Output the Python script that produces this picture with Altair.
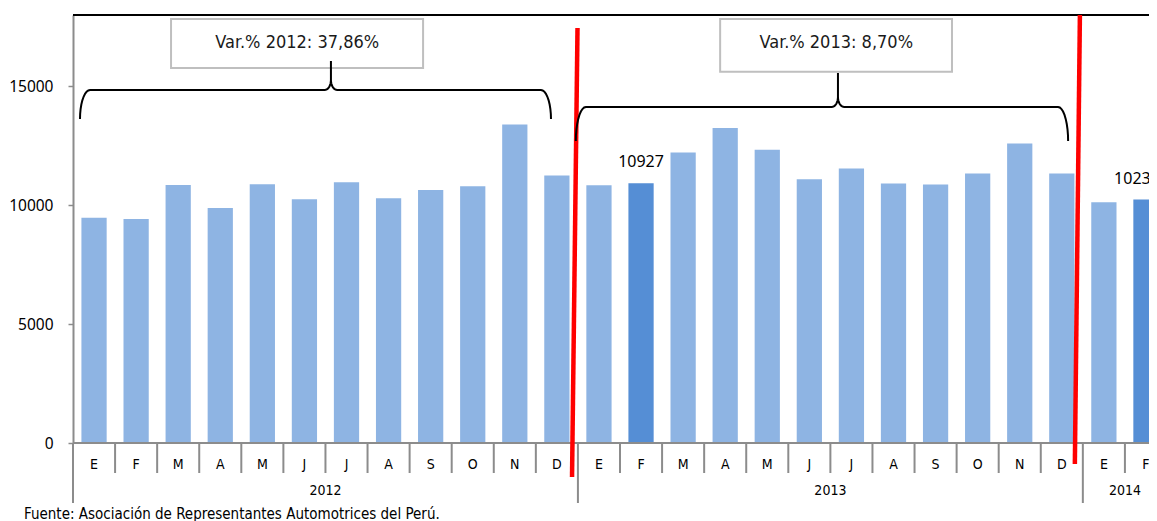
import altair as alt
import pandas as pd
import numpy as np

# ---------------- data ----------------
months_full = ["E", "F", "M", "A", "M", "J", "J", "A", "S", "O", "N", "D"]
months_2014 = ["E", "F"]
values_2012 = [9470, 9420, 10850, 9880, 10880, 10250, 10970, 10290, 10640, 10800, 13390, 11250]
values_2013 = [10840, 10927, 12220, 13250, 12330, 11090, 11540, 10910, 10870, 11330, 12600, 11330]
values_2014 = [10130, 10236]
highlight = ["2013|02", "2014|02"]
year_names = ["2012", "2013", "2014"]
var_texts = ["Var.% 2012: 37,86%", "Var.% 2013: 8,70%"]
source_text = "Fuente: Asociación de Representantes Automotrices del Perú."

NARROW = "Liberation Sans Narrow, Arial Narrow, DejaVu Sans Condensed, sans-serif"
LIGHT = "#8EB4E3"
DARK = "#558ED5"
GRAY = "#8C8C8C"

rows = []
for year, mlist, vals in [(2012, months_full, values_2012),
                          (2013, months_full, values_2013),
                          (2014, months_2014, values_2014)]:
    for i, (m, v) in enumerate(zip(mlist, vals)):
        k = f"{year}|{i + 1:02d}"
        rows.append(dict(key=f"{k}|{m}", value=v,
                         kind="hl" if k in highlight else "normal"))
df = pd.DataFrame(rows)
order = list(df["key"])
N = len(order)

YMAX = 18000
PLOT_W = 1076      # visible plot width inside the page
FULL_W = 1094      # full width of the 26 categories (the last one is cut by the page edge)
PLOT_H = 428

YAXIS = alt.Axis(title=None, values=[0, 5000, 10000, 15000], grid=False, format="d",
                 tickColor=GRAY, tickSize=5, tickWidth=1.5,
                 domainColor=GRAY, domainWidth=2,
                 labelFont="Noto Sans", labelFontSize=15.5,
                 labelColor="#000", labelPadding=15)


def ysc():
    return alt.Scale(domain=[0, YMAX], nice=False, zero=False)


def xq():
    return alt.Scale(domain=[0, N], nice=False, zero=False, range=[0, FULL_W])


def bandsc():
    return alt.Scale(domain=order, paddingInner=0.4, paddingOuter=0.2, range=[0, FULL_W])


def qx(field):
    return alt.X(field, scale=xq(), axis=None)


def qy(field):
    return alt.Y(field, scale=ysc(), axis=YAXIS)


# ---------------- bars ----------------
xband = alt.X("key:N", sort=order, scale=bandsc(),
              axis=alt.Axis(title=None, labelExpr="split(datum.value,'|')[2]",
                            ticks=False, domain=False, labelAngle=0,
                            labelFont=NARROW, labelFontSize=14, labelColor="#000",
                            labelBaseline="middle", labelPadding=21))

bars = alt.Chart(df).mark_bar().encode(
    x=xband,
    y=qy("value:Q"),
    color=alt.Color("kind:N", scale=alt.Scale(domain=["normal", "hl"], range=[LIGHT, DARK]),
                    legend=None),
)

df_a = df[df["key"] == "2013|02|F"]
df_b = df[df["key"] == "2014|02|F"]
lab_a = alt.Chart(df_a).mark_text(
    font="Noto Sans", fontSize=16, color="#000", baseline="alphabetic", dy=-16
).encode(x=alt.X("key:N", scale=bandsc(), axis=None), y=qy("value:Q"), text="value:Q")
lab_b = alt.Chart(df_b).mark_text(
    font="Noto Sans", fontSize=16, color="#000", baseline="alphabetic", dy=-16, dx=-9
).encode(x=alt.X("key:N", scale=bandsc(), axis=None), y=qy("value:Q"), text="value:Q")

# ---------------- annotation layers (continuous x) ----------------
frame = pd.DataFrame(dict(x=[0], x2=[N], y0=[0], ytop=[YMAX], t=[source_text]))
base_rule = alt.Chart(frame).mark_rule(color=GRAY, strokeWidth=2).encode(
    x=qx("x:Q"), x2="x2:Q", y=qy("y0:Q"))
top_rule = alt.Chart(frame).mark_rule(color="#000", strokeWidth=2).encode(
    x=qx("x:Q"), x2="x2:Q", y=qy("ytop:Q"))

year_starts = [0, 12, 24]
month_pos = [p for p in range(N + 1) if p not in year_starts]
month_div = pd.DataFrame(dict(p=month_pos, y0=[0] * len(month_pos)))
year_div = pd.DataFrame(dict(p=year_starts, y0=[0] * 3))
mdiv = alt.Chart(month_div).mark_rule(color=GRAY, strokeWidth=2).encode(
    x=qx("p:Q"), y=qy("y0:Q"), y2=alt.value(458))
ydiv = alt.Chart(year_div).mark_rule(color=GRAY, strokeWidth=2).encode(
    x=qx("p:Q"), y=qy("y0:Q"), y2=alt.value(488))

ylab_df = pd.DataFrame(dict(c=[6, 18, 25], t=year_names))
ylab = alt.Chart(ylab_df).mark_text(font=NARROW, fontSize=14, color="#000",
                                    baseline="middle").encode(
    x=qx("c:Q"), y=alt.value(476), text="t:N")

red_df = pd.DataFrame(dict(x=[11.99, 23.93], x2=[11.86, 23.81],
                           y=[17453, 18000], y2=[-1430, -883]))
red = alt.Chart(red_df).mark_rule(color="#FF0000", strokeWidth=4.5).encode(
    x=qx("x:Q"), x2="x2:Q", y=qy("y:Q"), y2="y2:Q")

box_df = pd.DataFrame(dict(x=[2.33, 15.38], x2=[8.32, 20.89],
                           y=[17832, 17832], y2=[15771, 15615],
                           xc=[5.33, 18.14], yc=[16823, 16823], t=var_texts))
boxes = alt.Chart(box_df).mark_rect(fill="white", stroke="#BFBFBF", strokeWidth=2).encode(
    x=qx("x:Q"), x2="x2:Q", y=qy("y:Q"), y2="y2:Q")
box_txt = alt.Chart(box_df).mark_text(font=NARROW, fontSize=18, color="#1A1A1A",
                                      baseline="middle").encode(
    x=qx("xc:Q"), y=qy("yc:Q"), text="t:N")


def brace(bid, x0, x1, xm, yl, ye, yt, rx=0.24, tx=0.15, ty=420):
    phi = np.linspace(0, np.pi / 2, 10)
    pts = []
    pts += [(x0 + rx * (1 - np.cos(a)), ye + (yl - ye) * np.sin(a)) for a in phi]
    pts += [(xm - tx + tx * np.sin(a), yl + ty * (1 - np.cos(a))) for a in phi]
    pts += [(xm, yt)]
    pts += [(xm + tx - tx * np.sin(a), yl + ty * (1 - np.cos(a))) for a in phi[::-1]]
    pts += [(x1 - rx * (1 - np.cos(a)), ye + (yl - ye) * np.sin(a)) for a in phi[::-1]]
    return [dict(b=bid, o=i, x=float(px), y=float(py)) for i, (px, py) in enumerate(pts)]


brace_df = pd.DataFrame(
    brace("a", 0.166, 11.36, 6.13, 14846, 13626, 16065)
    + brace("b", 11.95, 23.65, 18.18, 14131, 12701, 15561)
)
braces = alt.Chart(brace_df).mark_line(color="#000", strokeWidth=2).encode(
    x=qx("x:Q"), y=qy("y:Q"), detail="b:N", order="o:Q")

src = alt.Chart(frame).mark_text(font=NARROW, fontSize=15, color="#000",
                                 align="left", baseline="alphabetic").encode(
    x=alt.value(-49), y=alt.value(504), text="t:N")

chart = alt.layer(
    bars, lab_a, lab_b,
    base_rule, top_rule, mdiv, ydiv, ylab, red, boxes, braces, box_txt, src
).resolve_scale(x="independent").properties(
    width=PLOT_W, height=PLOT_H,
    padding={"left": 65, "top": 7, "right": 0, "bottom": 78},
    autosize=alt.AutoSizeParams(type="none"),
).configure_view(stroke=None).configure(background="white")

chart.save("out.html", embed_options={"renderer": "svg", "actions": False})
